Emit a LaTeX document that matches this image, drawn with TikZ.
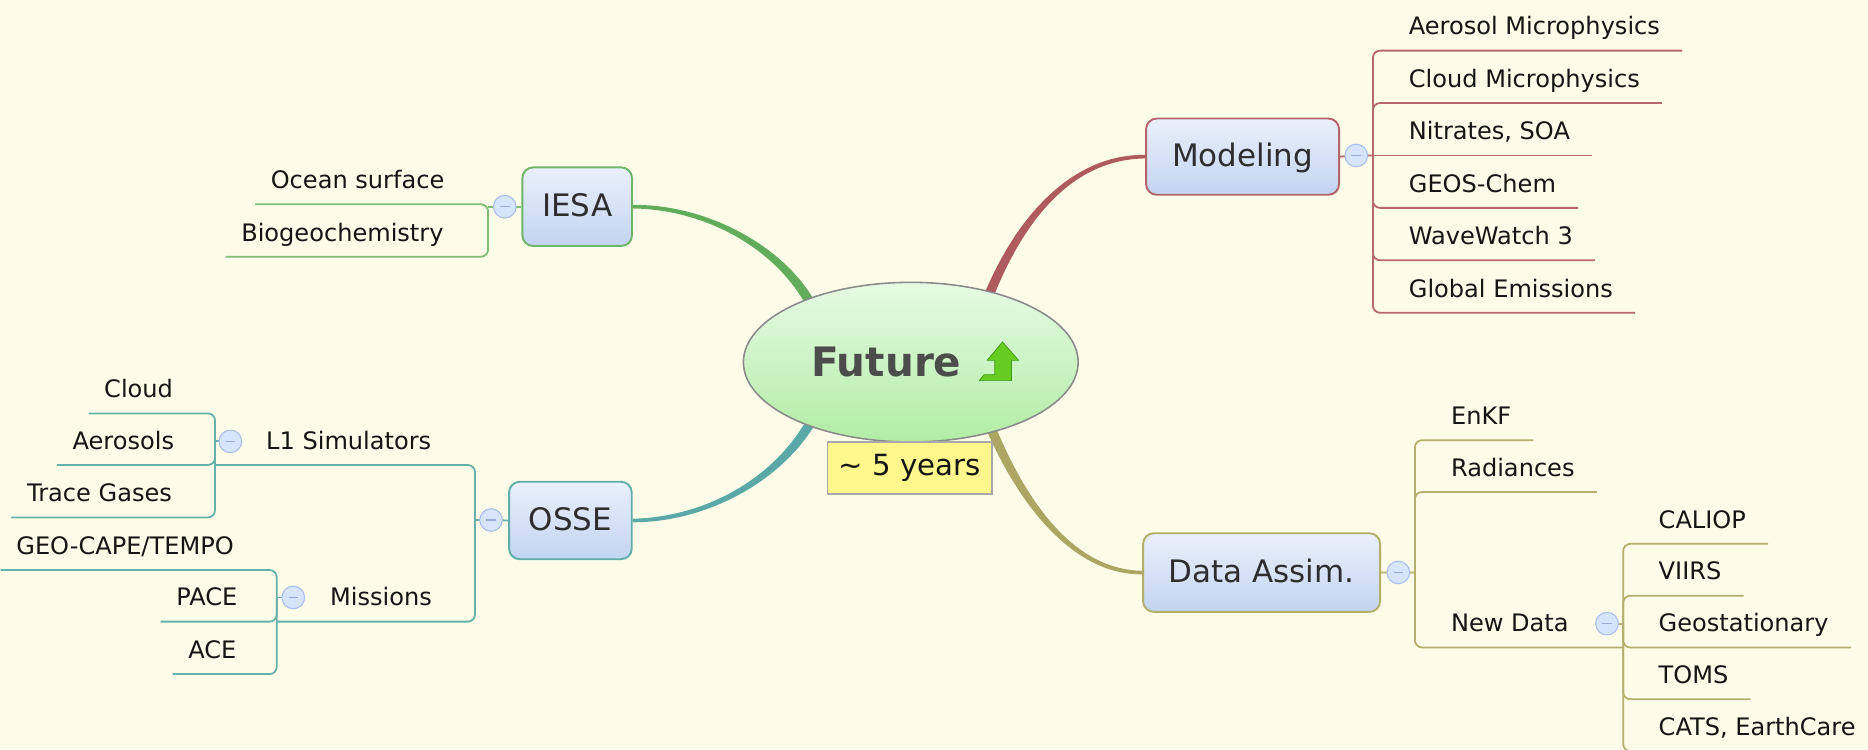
\documentclass[tikz,border=0pt]{standalone}
\usepackage{fontspec}
\setmainfont{DejaVu Sans}
\usetikzlibrary{shapes.geometric,calc,shadings}
\definecolor{bg}{HTML}{FDFCE8}
\definecolor{txt}{HTML}{151515}
\definecolor{topictxt}{HTML}{2E2E2E}
\definecolor{boxtop}{HTML}{EAF0FB}
\definecolor{boxbot}{HTML}{C3D4F1}
\definecolor{collfill}{HTML}{D6E4FC}
\definecolor{colldraw}{HTML}{A7BEEE}
\definecolor{collminus}{HTML}{98A9D6}
\definecolor{iesaB}{HTML}{6DB568}
\definecolor{iesaL}{HTML}{7DBD77}
\definecolor{iesaC}{HTML}{62AD5C}
\definecolor{modB}{HTML}{B4646A}
\definecolor{modL}{HTML}{B8686C}
\definecolor{modC}{HTML}{AF5B5E}
\definecolor{osseB}{HTML}{5EAEAA}
\definecolor{osseL}{HTML}{65B0AC}
\definecolor{osseC}{HTML}{5AA9A8}
\definecolor{dataB}{HTML}{B3AE68}
\definecolor{dataL}{HTML}{B4AF6C}
\definecolor{dataC}{HTML}{ABA662}
\definecolor{futTop}{HTML}{E6FAE4}
\definecolor{futBot}{HTML}{B2EDA5}
\definecolor{futLine}{HTML}{8A8A8A}
\definecolor{futTxt}{HTML}{4C4C4C}
\definecolor{yearFill}{HTML}{FFF68C}
\definecolor{yearLine}{HTML}{A8A8A8}
\definecolor{arrowFill}{HTML}{66CC22}
\definecolor{arrowLine}{HTML}{3E9A10}
\tikzset{
  kid/.style={inner sep=0pt, font=\fontsize{20.2}{24}\selectfont, text=txt},
  kidL/.style={kid, anchor=base east},
  kidR/.style={kid, anchor=base west},
  topic/.style={rectangle, rounded corners=9pt, top color=boxtop, bottom color=boxbot,
    line width=1.6pt, inner sep=0pt, font=\fontsize{26}{30}\selectfont, text=topictxt,
    text height=21pt, text depth=4pt},
  coll/.style={circle, inner sep=0pt, minimum size=19pt, fill=collfill, draw=colldraw,
    line width=0.9pt,
    path picture={\draw[collminus, line width=1.1pt]
      ([xshift=-4pt]path picture bounding box.center) --
      ([xshift=4pt]path picture bounding box.center);}},
  tree/.style={line width=1.5pt, rounded corners=6pt},
}
\begin{document}
\begin{tikzpicture}[x=1pt,y=-1pt]
\useasboundingbox (0,0) rectangle (1568,629);
\fill[bg] (0,0) rectangle (1568,629);

% ---------- topic boxes ----------
\node[topic, draw=iesaB, minimum width=92pt, minimum height=66pt] (iesa) at (484.5,173.5) {IESA};
\node[topic, draw=modB, minimum width=162pt, minimum height=64pt] (mod) at (1043,131.5) {Modeling};
\node[topic, draw=osseB, minimum width=103pt, minimum height=65pt] (osse) at (478.8,436.9) {OSSE};
\node[topic, draw=dataB, minimum width=199pt, minimum height=66pt] (data) at (1059,480.6) {Data Assim.};

% ---------- children texts ----------
\node[kidR] (m1) at (1182.4,29.3) {Aerosol Microphysics};
\node[kidR] (m2) at (1182.4,73.3) {Cloud Microphysics};
\node[kidR] (m3) at (1182.4,117.3) {Nitrates, SOA};
\node[kidR] (m4) at (1182.4,161.3) {GEOS-Chem};
\node[kidR] (m5) at (1182.4,205.3) {WaveWatch 3};
\node[kidR] (m6) at (1182.4,249.3) {Global Emissions};

\node[kidR] (d1) at (1217.8,356.3) {EnKF};
\node[kidR] (d2) at (1217.8,399.8) {Radiances};
\node[kidR] (d3) at (1217.8,530.3) {New Data};

\node[kidR] (n1) at (1392.1,443.3) {CALIOP};
\node[kidR] (n2) at (1392.1,486.8) {VIIRS};
\node[kidR] (n3) at (1392.1,530.3) {Geostationary};
\node[kidR] (n4) at (1392.1,573.8) {TOMS};
\node[kidR] (n5) at (1392.1,617.3) {CATS, EarthCare};

\node[kidL] (i1) at (373.2,158.3) {Ocean surface};
\node[kidL] (i2) at (372.5,202.3) {Biogeochemistry};

\node[kidL] (o1) at (362.2,377.1) {L1 Simulators};
\node[kidL] (o2) at (362.7,508.6) {Missions};

\node[kidL] (l1) at (145.4,333.8) {Cloud};
\node[kidL] (l2) at (146.3,377.1) {Aerosols};
\node[kidL] (l3) at (144.5,421.1) {Trace Gases};

\node[kidL] (s1) at (196.4,465.3) {GEO-CAPE/TEMPO};
\node[kidL] (s2) at (199.4,508.6) {PACE};
\node[kidL] (s3) at (198.6,552.6) {ACE};

% ---------- junctions and collapse-button places ----------
\coordinate (ciP) at (423.7,173.5);
\coordinate (jI) at (409.7,173.5);
\coordinate (cmP) at (1138.4,130.5);
\coordinate (jM) at (1152.4,130.5);
\coordinate (cdP) at (1173.8,480.5);
\coordinate (jD) at (1187.7,480.5);
\coordinate (cnP) at (1348.9,523.5);
\coordinate (jN) at (1362.5,523.5);
\coordinate (ndl) at (1362.5,543.5);
\coordinate (coP) at (412.2,436.5);
\coordinate (jO) at (398.7,436.5);
\coordinate (o1e) at (180.5,390.3);
\coordinate (o2e) at (232.3,521.8);
\coordinate (clP) at (193.4,370.5);
\coordinate (jL) at (180.5,370.5);
\coordinate (cmiP) at (246.2,501.5);
\coordinate (jMi) at (232.3,501.5);

% ---------- tree lines ----------
% IESA
\draw[tree,iesaL] ($(i1.base west)+(-13,13.2)$) -| (409.7,215.5) -- ($(i2.base west)+(-13,13.2)$);
\draw[tree,iesaL] (iesa.west) -- (ciP) -- (jI);
% Modeling
\draw[tree,modL] (mod.east) -- (cmP) -- (jM);
\foreach \k in {m1,m2,m4,m5,m6}
  \draw[tree,modL] (jM) |- ($(\k.base east)+(18.5,13.2)$);
\draw[tree,modL] (jM) -- ($(m3.base east)+(18.5,13.2)$);
% Data Assim.
\draw[tree,dataL] (data.east) -- (cdP) -- (jD);
\foreach \k in {d1,d2}
  \draw[tree,dataL] (jD) |- ($(\k.base east)+(18.5,13.2)$);
\draw[tree,dataL] (jD) |- (ndl);
\draw[tree,dataL] (cnP) -- (jN);
\foreach \k in {n1,n2,n3,n4,n5}
  \draw[tree,dataL] (jN) |- ($(\k.base east)+(18.5,13.2)$);
% OSSE
\draw[tree,osseL] (osse.west) -- (coP) -- (jO);
\draw[tree,osseL] (jO) |- (o1e);
\draw[tree,osseL] (jO) |- (o2e);
\draw[tree,osseL] (clP) -- (jL);
\foreach \k in {l1,l2,l3}
  \draw[tree,osseL] (jL) |- ($(\k.base west)+(-13,13.2)$);
\draw[tree,osseL] (cmiP) -- (jMi);
\foreach \k in {s1,s2,s3}
  \draw[tree,osseL] (jMi) |- ($(\k.base west)+(-13,13.2)$);

% ---------- collapse buttons ----------
\node[coll] (ci) at (ciP) {};
\node[coll] (cm) at (cmP) {};
\node[coll] (cd) at (cdP) {};
\node[coll] (cn) at (cnP) {};
\node[coll] (co) at (coP) {};
\node[coll] (cl) at (clP) {};
\node[coll] (cmi) at (cmiP) {};

% ---------- main tapered branches ----------
\fill[iesaC] ($(iesa.east)+(0,1.5)$) .. controls (590,175.7) and (649.1,206.6) .. (676.5,256)
  -- (683.5,252) .. controls (654.9,203.4) and (590,171.3) .. ($(iesa.east)+(0,-1.5)$) -- cycle;
\fill[modC] ($(mod.west)+(0,-1.5)$) .. controls (905,129.3) and (856.9,173.7) .. (826.3,246.5)
  -- (833.7,249.5) .. controls (863.1,176.3) and (905,133.7) .. ($(mod.west)+(0,1.5)$) -- cycle;
\fill[osseC] ($(osse.east)+(0,1.5)$) .. controls (590,438.6) and (654.9,406.6) .. (685.5,354)
  -- (678.5,350) .. controls (649.1,403.4) and (590,434.2) .. ($(osse.east)+(0,-1.5)$) -- cycle;
\fill[dataC] ($(data.west)+(0,-1.5)$) .. controls (905,478.4) and (865,428.7) .. (835.7,358.4)
  -- (828.3,361.6) .. controls (859,431.3) and (905,482.8) .. ($(data.west)+(0,1.5)$) -- cycle;

% ---------- central topic ----------
\node[ellipse, minimum width=281pt, minimum height=134pt, inner sep=0pt,
  top color=futTop, bottom color=futBot, draw=futLine, line width=1.3pt] (fut) at (764.5,304) {};
\node[inner sep=0pt, font=\fontsize{34}{40}\selectfont\bfseries, text=futTxt] (futt) at (744,303.8) {Future};
\filldraw[fill=arrowFill, draw=arrowLine, line width=0.6pt, line join=round]
  (841.5,287) -- (855,302.5) -- (849,302.5) -- (849,319.5) -- (822,319.5) -- (826,314.5)
  -- (835,314.5) -- (835,302.5) -- (828.5,302.5) -- cycle;

\node[rectangle, fill=yearFill, draw=yearLine, line width=1.2pt, minimum width=138pt,
  minimum height=43.5pt, inner sep=0pt, font=\fontsize{24.5}{28}\selectfont, text=txt]
  (yrs) at (763.6,392.8) {\textasciitilde\ 5 years};
\end{tikzpicture}
\end{document}
